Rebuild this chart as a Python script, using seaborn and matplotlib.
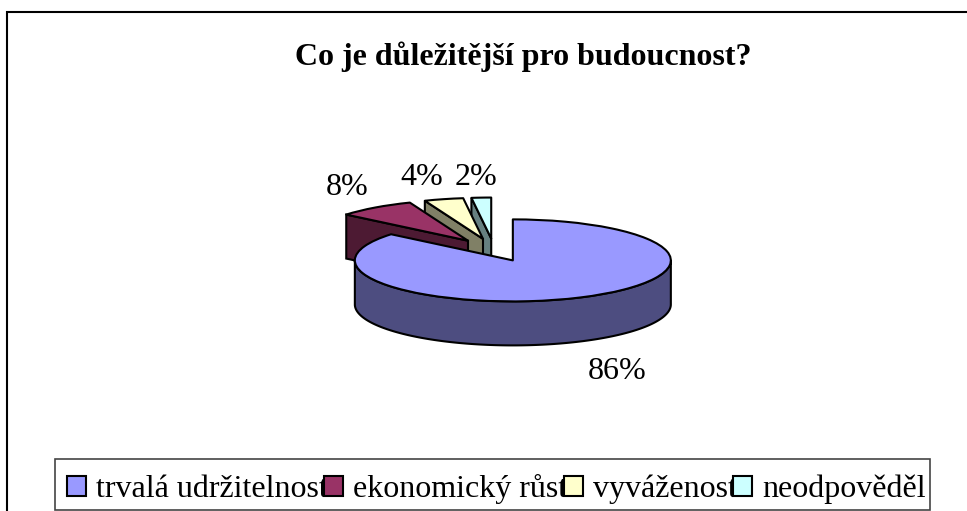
import numpy as np
import matplotlib
matplotlib.use("Agg")
import matplotlib.pyplot as plt
from matplotlib.patches import Polygon, Rectangle
import seaborn as sns

title = "Co je důležitější pro budoucnost?"
categories = ["trvalá udržitelnost", "ekonomický růst", "vyváženost", "neodpověděl"]
values = [86, 8, 4, 2]
top_colors = ["#9999FF", "#993366", "#FFFFCC", "#CCFFFF"]

sns.set_theme(style="white")
plt.rcParams["font.family"] = ["Liberation Serif", "DejaVu Serif"]

W, H = 967, 511
CX, CY, RX, RY, DEPTH = 494, 250, 158, 41, 44
fig = plt.figure(figsize=(W / 100, H / 100), dpi=100, facecolor="white")
ax = fig.add_axes([0, 0, 1, 1])
palette = sns.color_palette(top_colors)
wedges, _ = ax.pie(values, colors=palette, startangle=90, counterclock=False,
                   explode=[0.28] * len(values),
                   wedgeprops=dict(edgecolor="black", linewidth=1.5, joinstyle="round"))
ax.set_aspect("auto")
ax.set_xlim((0 - CX) / RX, (W - CX) / RX)
ax.set_ylim((CY - H) / RY, CY / RY)
d = DEPTH / RY

# extruded side walls, built from the wedges the pie returned
for i, (w, col) in enumerate(zip(wedges, palette)):
    side = tuple(c * 0.5 for c in col)
    cx, cy = w.center
    if i == 0:
        th = np.radians(np.linspace(w.theta1, w.theta2, 400))
        th = th[np.sin(th) <= 0]
        xs, ys = cx + np.cos(th), cy + np.sin(th)
        pts = np.r_[np.c_[xs, ys], np.c_[xs, ys - d][::-1]]
        wall_z, top_z = 3.0, 3.1
    else:
        t = np.radians(w.theta2)
        ox, oy = cx + np.cos(t), cy + np.sin(t)
        pts = [(cx, cy), (ox, oy), (ox, oy - d), (cx, cy - d)]
        wall_z, top_z = 1.0 + (3 - i) * 0.2, 1.1 + (3 - i) * 0.2
    ax.add_patch(Polygon(pts, closed=True, facecolor=side, edgecolor="black",
                         linewidth=1.5, zorder=wall_z))
    w.set_zorder(top_z)

# percentage labels, offset in pixels from the middle of each slice
offsets = [(37, -74), (-28, 20), (-22, 22), (-5, 20)]
for w, v, off in zip(wedges, values, offsets):
    t = np.radians((w.theta1 + w.theta2) / 2)
    ax.annotate(f"{v}%", xy=(w.center[0] + np.cos(t), w.center[1] + np.sin(t)),
                xytext=off, textcoords="offset pixels", ha="center", va="center",
                fontsize=23, color="black", zorder=5)

fig.text(523 / W, 1 - 57 / H, title, fontsize=23, fontweight="bold",
         ha="center", va="center", color="black")

leg = ax.legend(wedges, categories, ncol=4, loc="lower left",
                bbox_to_anchor=(55 / W, -5 / H), bbox_transform=fig.transFigure,
                fontsize=23, frameon=False, labelcolor="black",
                handlelength=0.6, handleheight=0.6,
                handletextpad=0.3, columnspacing=-0.1, borderpad=0.37,
                borderaxespad=0)
leg.set_zorder(6)

# legend frame
fig.add_artist(Rectangle((55 / W, 1 - 510 / H), 875 / W, 51 / H, transform=fig.transFigure,
                         fill=False, edgecolor="#444444", linewidth=1.2))
# chart border: only left and top fall inside the picture
fig.add_artist(Rectangle((7 / W, -10 / H), (W + 20) / W, (H + 10 - 12.5) / H,
                         transform=fig.transFigure, fill=False, edgecolor="black",
                         linewidth=1.5))
fig.savefig("out.png", dpi=100)
